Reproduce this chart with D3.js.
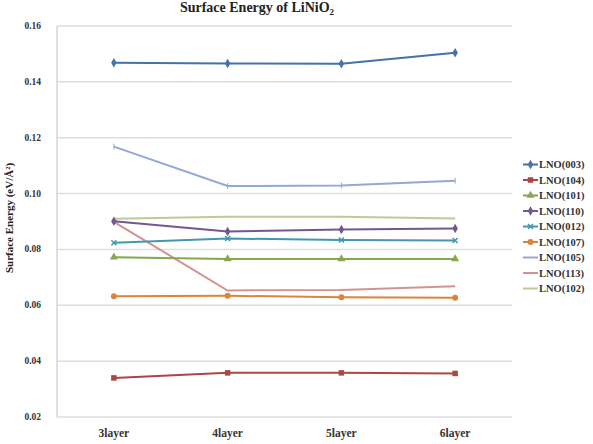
<!DOCTYPE html>
<html>
<head>
<meta charset="utf-8">
<script src="https://cdn.jsdelivr.net/npm/d3@7"></script>
<style>
  body { margin: 0; background: #fff; }
  svg { font-family: "Liberation Serif", "DejaVu Serif", serif; }
</style>
</head>
<body>
<div id="chart"></div>
<script>
// categories and tick labels
var layers = ["3layer", "4layer", "5layer", "6layer"];
var yTicks = [0.02, 0.04, 0.06, 0.08, 0.10, 0.12, 0.14, 0.16];

// series values
var lno003 = [0.1468, 0.1466, 0.1465, 0.1504];
var lno104 = [0.0340, 0.0358, 0.0358, 0.0356];
var lno101 = [0.0772, 0.0766, 0.0766, 0.0766];
var lno110 = [0.0901, 0.0864, 0.0871, 0.0875];
var lno012 = [0.0824, 0.0839, 0.0834, 0.0832];
var lno107 = [0.0632, 0.0634, 0.0629, 0.0627];
var lno105 = [0.1168, 0.1027, 0.1029, 0.1046];
var lno113 = [0.0899, 0.0653, 0.0655, 0.0668];
var lno102 = [0.0910, 0.0917, 0.0917, 0.0911];

var seriesNames = ["LNO(003)", "LNO(104)", "LNO(101)", "LNO(110)", "LNO(012)",
                   "LNO(107)", "LNO(105)", "LNO(113)", "LNO(102)"];
var seriesValues = [lno003, lno104, lno101, lno110, lno012, lno107, lno105, lno113, lno102];
var seriesColors = ["#4572A7", "#AA4643", "#89A54E", "#71588F", "#4198AF",
                    "#DB843D", "#93A9CF", "#D19392", "#B9CD96"];
var seriesMarkers = ["diamond", "square", "triangle", "diamond", "x",
                     "circle", "tick", "none", "none"];

var width = 593, height = 444;
var svg = d3.select("#chart").append("svg")
    .attr("width", width)
    .attr("height", height);

var x = d3.scalePoint().domain(layers).range([57, 512]).padding(0.5);
var y = d3.scaleLinear().domain([0.02, 0.16]).range([417, 26]);

// title
var title = svg.append("text")
    .attr("x", 257).attr("y", 12)
    .attr("text-anchor", "middle")
    .attr("font-size", 14).attr("font-weight", "bold")
    .attr("fill", "#222");
title.append("tspan").text("Surface Energy of LiNiO");
title.append("tspan").attr("font-size", 9).attr("dy", 3).text("2");

// gridlines + y labels
svg.append("g").selectAll("line")
    .data(yTicks).enter().append("line")
    .attr("x1", 57).attr("x2", 512)
    .attr("y1", function (d) { return y(d); })
    .attr("y2", function (d) { return y(d); })
    .attr("stroke", "#dedede").attr("stroke-width", 1.5);

svg.append("line")
    .attr("x1", 57).attr("x2", 57)
    .attr("y1", y(0.16)).attr("y2", y(0.02))
    .attr("stroke", "#d4d4d4").attr("stroke-width", 1.5);

svg.append("g").selectAll("text")
    .data(yTicks).enter().append("text")
    .attr("x", 41)
    .attr("y", function (d) { return y(d) + 3; })
    .attr("text-anchor", "end")
    .attr("font-size", 9.5).attr("font-weight", "bold")
    .attr("fill", "#333")
    .text(function (d) { return d3.format(".2f")(d); });

// x labels
svg.append("g").selectAll("text")
    .data(layers).enter().append("text")
    .attr("x", function (d) { return x(d); })
    .attr("y", 437)
    .attr("text-anchor", "middle")
    .attr("font-size", 11.5).attr("font-weight", "bold")
    .attr("fill", "#333")
    .text(function (d) { return d; });

// y title
svg.append("text")
    .attr("transform", "translate(13,218) rotate(-90)")
    .attr("text-anchor", "middle")
    .attr("font-size", 11).attr("font-weight", "bold")
    .attr("fill", "#222")
    .text("Surface Energy (eV/\u00C5\u00B2)");

function drawMarker(g, type, cx, cy, color) {
    if (type === "none") return;
    if (type === "tick") {
        g.append("line")
            .attr("x1", cx).attr("x2", cx)
            .attr("y1", cy - 3).attr("y2", cy + 3)
            .attr("stroke", color).attr("stroke-width", 1);
        return;
    }
    if (type === "x") {
        g.append("path")
            .attr("transform", "translate(" + cx + "," + cy + ")")
            .attr("d", d3.symbol().type(d3.symbolX).size(18)())
            .attr("fill", "none").attr("stroke", color).attr("stroke-width", 1.5);
        return;
    }
    var sym = { diamond: d3.symbolDiamond, square: d3.symbolSquare,
                triangle: d3.symbolTriangle, circle: d3.symbolCircle }[type];
    var size = { diamond: 26, square: 30, triangle: 28, circle: 28 }[type];
    g.append("path")
        .attr("transform", "translate(" + cx + "," + cy + ")")
        .attr("d", d3.symbol().type(sym).size(size)())
        .attr("fill", color);
}

var line = d3.line()
    .x(function (d, i) { return x(layers[i]); })
    .y(function (d) { return y(d); });

// draw back to front so LNO(003) ends on top
for (var s = seriesValues.length - 1; s >= 0; s--) {
    var g = svg.append("g");
    g.append("path")
        .datum(seriesValues[s])
        .attr("d", line)
        .attr("fill", "none")
        .attr("stroke", seriesColors[s])
        .attr("stroke-width", 2);
    for (var i = 0; i < layers.length; i++) {
        drawMarker(g, seriesMarkers[s], x(layers[i]), y(seriesValues[s][i]), seriesColors[s]);
    }
}

// legend
var legend = svg.append("g");
for (var k = 0; k < seriesNames.length; k++) {
    var ly = 164.5 + k * 15.5;
    legend.append("line")
        .attr("x1", 523).attr("x2", 538)
        .attr("y1", ly).attr("y2", ly)
        .attr("stroke", seriesColors[k]).attr("stroke-width", 2);
    drawMarker(legend, seriesMarkers[k] === "tick" ? "none" : seriesMarkers[k], 530.5, ly, seriesColors[k]);
    legend.append("text")
        .attr("x", 539).attr("y", ly + 3.5)
        .attr("font-size", 10.5).attr("font-weight", "bold")
        .attr("fill", "#333")
        .text(seriesNames[k]);
}
</script>
</body>
</html>
